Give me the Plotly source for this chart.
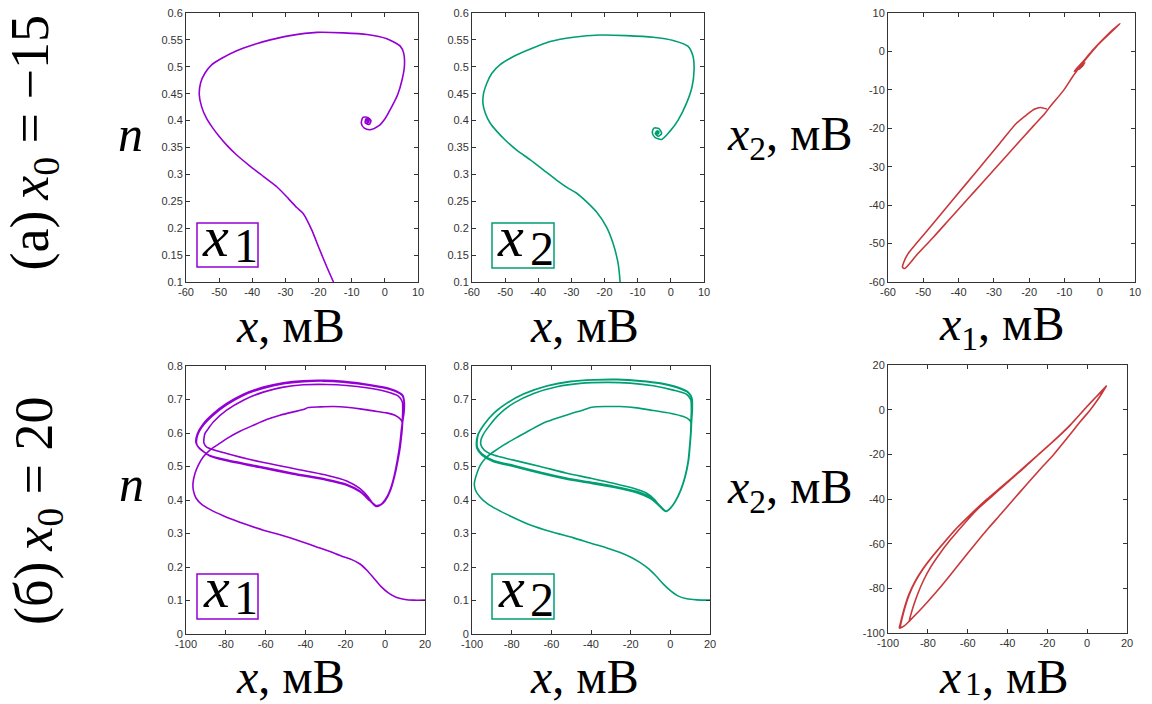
import plotly.graph_objects as go

W, H = 1152, 704
PURPLE = "#9400D3"
GREEN = "#009E73"
RED = "#C8373A"

# ---------------- data ----------------
# (a) x0 = -15 : x1 vs n
A1_PTS = [(-15.5,0.100),(-17.5,0.128),(-20.0,0.165),(-22.0,0.196),(-24.6,0.227),(-26.6,0.2385),
          (-29.1,0.255),(-32.6,0.277),(-36.6,0.296),(-40.7,0.3155),(-44.7,0.336),(-47.5,0.353),
          (-49.9,0.370),(-51.9,0.386),(-53.8,0.404),(-55.3,0.426),(-56.0,0.448),(-55.6,0.470),
          (-54.3,0.488),(-52.2,0.504),(-49.2,0.516),(-44.7,0.530),(-39.7,0.541),(-34.6,0.550),
          (-28.6,0.558),(-20.5,0.564),(-12.5,0.563),(-5.4,0.560),(0.6,0.552),(4.7,0.538),
          (5.7,0.525),(5.9,0.501),(5.2,0.476),(3.85,0.448),(2.1,0.426),(0.1,0.404),(-1.9,0.390),
          (-4.4,0.383),(-6.2,0.386),(-7.1,0.395),(-6.6,0.406),(-5.2,0.406),(-4.2,0.400),
          (-4.7,0.393),(-5.9,0.396),(-5.7,0.403),(-4.7,0.402),(-5.0,0.398),(-5.4,0.400),
          (-5.3,0.401),(-4.8,0.399),(-5.1,0.396),(-5.4,0.398),(-5.1,0.401),(-4.9,0.399),(-5.1,0.398),
          (-5.2,0.399),(-4.95,0.400),(-5.05,0.3985),(-5.15,0.400),(-5.0,0.400)]
# (a) x2 vs n
A2_PTS = [(-15.3,0.100),(-15.9,0.134),(-17.4,0.171),(-19.4,0.202),(-22.4,0.230),(-25.4,0.249),
          (-28.4,0.265),(-30.9,0.274),(-34.4,0.289),(-38.4,0.308),(-42.4,0.327),(-46.5,0.345),
          (-50.0,0.364),(-52.5,0.380),(-54.5,0.395),(-56.0,0.414),(-56.7,0.432),(-56.5,0.451),
          (-55.5,0.470),(-54.0,0.488),(-51.5,0.504),(-47.5,0.519),(-42.4,0.533),(-36.4,0.547),
          (-29.4,0.555),(-21.4,0.559),(-13.4,0.558),(-5.3,0.555),(0.7,0.549),(5.2,0.538),
          (6.7,0.519),(7.0,0.494),(6.4,0.463),(4.7,0.432),(2.2,0.401),(-0.3,0.380),(-2.8,0.365),
          (-4.8,0.369),(-5.6,0.378),(-5.1,0.386),(-3.6,0.385),(-2.8,0.376),(-3.8,0.371),
          (-4.7,0.376),(-4.1,0.381),(-3.6,0.379),(-3.9,0.375),(-4.3,0.377),(-4.0,0.379),
          (-3.8,0.377),(-4.0,0.376),(-4.1,0.378),(-3.9,0.377)]
# (a) x1 vs x2
A3_DOWN = [(-15.0,-15.0),(-16.8,-14.6),(-18.4,-15.0),(-20.7,-16.5),(-23.6,-18.7),(-28.3,-23.9),
           (-33.0,-29.1),(-37.8,-34.4),(-42.5,-39.6),(-47.2,-44.8),(-52.0,-50.0),(-54.3,-52.6),
           (-55.5,-54.8),(-55.9,-56.1)]
A3_UP = [(-55.3,-56.5),(-52.0,-53.1),(-47.2,-48.4),(-42.5,-43.6),(-37.8,-38.8),(-33.0,-33.9),
         (-28.3,-29.1),(-23.6,-24.3),(-18.9,-19.5),(-15.5,-16.1),(-14.1,-14.4),(-10.3,-10.2),
         (-7.0,-5.7),(-0.9,1.3),(5.75,7.2)]
A3_BACK = [(3.9,5.8),(1.0,3.2),(-1.9,0.4),(-4.7,-2.6),(-6.6,-4.5),(-7.2,-5.2),(-6.2,-4.6),
           (-4.2,-2.9),(-5.8,-4.6),(-4.4,-3.3),(-5.4,-4.2),(-4.8,-3.7),(-5.0,-4.0)]

# (b) x0 = 20 : x1 vs n
B1_T = [(20.0,0.101),(14.1,0.101),(10.0,0.103),(5.8,0.109),(1.6,0.123),(-2.3,0.143),(-5.9,0.168),
        (-9.3,0.191),(-12.6,0.209),(-16.8,0.222),(-21.8,0.232),(-27.7,0.246),(-34.4,0.260),
        (-41.1,0.274),(-47.8,0.287),(-54.5,0.299),(-61.2,0.310),(-67.9,0.323),(-74.6,0.337),
        (-81.3,0.353),(-88.0,0.372),(-92.1,0.387),(-95.0,0.406),(-96.3,0.429),(-96.5,0.449)]
B1_M = [(-95.5,0.479),(-93.8,0.504),(-91.3,0.529),(-88.0,0.549),(-83.8,0.566),(-78.7,0.586),
        (-72.9,0.605),(-66.2,0.623),(-59.5,0.640),(-52.8,0.653),(-46.1,0.663),(-41.1,0.670),
        (-38.6,0.676),(-32.7,0.678),(-26.0,0.679),(-19.3,0.677),(-12.6,0.672),(-5.9,0.666),
        (0.8,0.660),(4.9,0.653),(7.4,0.643),(8.5,0.633)]
B1_D1 = [(8.1,0.608),(7.4,0.568),(6.1,0.519),(4.4,0.469),(2.4,0.429),(-0.1,0.399),(-2.6,0.384),(-4.6,0.381)]
B1_L1 = [(-5.9,0.387),(-8.5,0.409),(-12.6,0.434),(-19.3,0.457),(-29.4,0.474),(-46.1,0.494),
         (-62.8,0.514),(-79.6,0.539),(-89.6,0.558),(-91.0,0.570),(-91.0,0.583)]
B1_U1 = [(-90.5,0.598),(-88.8,0.613),(-86.3,0.633),(-79.6,0.668),(-71.2,0.698),(-61.2,0.722),
         (-51.1,0.737),(-41.1,0.744),(-29.4,0.745),(-19.3,0.742),(-9.3,0.735),(0.8,0.723),
         (6.6,0.710),(8.6,0.693),(8.8,0.668),(8.6,0.633)]
B1_D2 = [(8.3,0.600),(7.6,0.560),(6.3,0.515),(4.6,0.468),(2.6,0.428),(0.0,0.398),(-2.5,0.384),(-4.5,0.382)]
B1_L2 = [(-7.6,0.397),(-12.6,0.424),(-19.3,0.444),(-29.4,0.459),(-46.1,0.477),(-62.8,0.497),
         (-79.6,0.517),(-88.0,0.531),(-93.8,0.558),(-95.0,0.571)]
B1_U2 = [(-94.3,0.598),(-91.3,0.628),(-86.3,0.658),(-79.6,0.688),(-71.2,0.716),(-61.2,0.737),
         (-51.1,0.750),(-41.1,0.756),(-31.0,0.757),(-21.0,0.754),(-11.0,0.747),(-0.9,0.737),
         (5.8,0.725),(8.8,0.713),(9.6,0.693),(9.5,0.663),(8.8,0.633)]
B1_D3 = [(8.4,0.602),(7.5,0.563),(6.2,0.517),(4.5,0.470),(2.5,0.430),(-0.1,0.400),(-2.6,0.385),(-4.6,0.383)]
B1_L3 = [(-7.7,0.399),(-12.8,0.427),(-19.5,0.447),(-29.6,0.462),(-46.3,0.480),(-63.0,0.500),
         (-79.8,0.520),(-88.4,0.534),(-93.6,0.556),(-94.7,0.569)]
B1_U3 = [(-94.0,0.596),(-91.0,0.625),(-86.0,0.655),(-79.4,0.685),(-71.0,0.713),(-61.0,0.734),
         (-51.0,0.747),(-41.0,0.753),(-31.0,0.755),(-21.0,0.752),(-11.0,0.745),(-1.0,0.735),
         (5.6,0.723),(8.7,0.711),(9.5,0.692),(9.4,0.663),(8.7,0.633)]

# (b) x2 vs n
B2_T = [(20.0,0.101),(13.3,0.102),(8.3,0.105),(4.1,0.113),(0.2,0.129),(-3.5,0.149),(-7.2,0.173),
        (-11.0,0.195),(-15.2,0.213),(-19.9,0.229),(-25.3,0.243),(-32.0,0.257),(-40.1,0.271),
        (-48.8,0.287),(-60.1,0.305),(-70.6,0.325),(-80.0,0.350),(-87.4,0.372),(-92.4,0.390),
        (-96.1,0.410),(-98.3,0.430),(-98.8,0.450)]
B2_M = [(-97.5,0.480),(-95.8,0.504),(-93.3,0.524),(-89.1,0.544),(-84.1,0.564),(-77.3,0.587),
        (-70.6,0.609),(-62.2,0.634),(-52.2,0.654),(-43.8,0.669),(-39.6,0.677),(-32.0,0.679),
        (-25.3,0.679),(-16.9,0.675),(-8.5,0.667),(-0.1,0.659),(6.6,0.649),(9.6,0.639),(10.4,0.631)]
B2_D1 = [(10.4,0.609),(9.9,0.569),(9.1,0.519),(7.4,0.470),(5.2,0.430),(2.4,0.395),(-0.1,0.375),(-1.8,0.367),(-3.0,0.368)]
B2_L1 = [(-5.2,0.380),(-7.7,0.400),(-11.9,0.420),(-18.6,0.435),(-28.7,0.450),(-40.1,0.465),
         (-52.2,0.480),(-65.6,0.500),(-79.0,0.519),(-89.1,0.534),(-93.8,0.549),(-95.5,0.564),(-95.5,0.579)]
B2_U1 = [(-94.5,0.594),(-91.6,0.619),(-86.6,0.654),(-79.0,0.689),(-68.9,0.718),(-57.2,0.738),
         (-45.5,0.748),(-32.0,0.751),(-20.3,0.749),(-8.5,0.741),(1.5,0.728),(8.3,0.715),
         (10.3,0.699),(10.6,0.669),(10.4,0.634)]
B2_D2 = [(10.3,0.605),(9.8,0.566),(9.0,0.517),(7.3,0.468),(5.1,0.428),(2.3,0.394),(-0.2,0.374),(-1.9,0.366),(-2.7,0.367)]
B2_L2 = [(-6.0,0.385),(-10.2,0.405),(-16.9,0.422),(-28.7,0.438),(-40.1,0.450),(-52.2,0.462),
         (-65.6,0.480),(-79.0,0.500),(-89.1,0.514),(-95.0,0.534),(-97.5,0.554),(-97.8,0.569)]
B2_U2 = [(-97.1,0.594),(-94.1,0.624),(-89.1,0.659),(-82.4,0.689),(-74.0,0.716),(-62.2,0.740),
         (-50.5,0.753),(-38.7,0.758),(-27.0,0.759),(-15.2,0.755),(-5.2,0.748),(3.2,0.736),
         (9.1,0.720),(10.8,0.703),(11.0,0.669),(10.6,0.634)]
B2_D3 = [(10.5,0.607),(10.0,0.568),(9.2,0.518),(7.5,0.469),(5.3,0.429),(2.5,0.395),(0.0,0.375),(-1.7,0.367),(-2.6,0.368)]
B2_L3 = [(-5.9,0.387),(-10.0,0.408),(-16.7,0.425),(-28.5,0.441),(-39.9,0.453),(-52.0,0.465),
         (-65.4,0.483),(-78.8,0.503),(-88.9,0.517),(-94.8,0.537),(-97.2,0.556),(-97.5,0.571)]
B2_U3 = [(-96.8,0.596),(-93.8,0.626),(-88.8,0.660),(-82.2,0.690),(-73.8,0.717),(-62.0,0.741),
         (-50.3,0.754),(-38.5,0.759),(-26.8,0.760),(-15.0,0.756),(-5.0,0.749),(3.4,0.737),
         (9.2,0.721),(10.9,0.704),(11.1,0.670),(10.7,0.634)]

# (b) x1 vs x2
B3_UL_INNER = [(9.5,10.5),(4.8,6.0),(-0.2,1.3),(-8.5,-6.9),(-16.9,-14.1),(-25.3,-20.8),(-31.0,-25.5),
               (-38.6,-31.4),(-46.9,-38.1),(-55.3,-44.8),(-62.3,-51.6),(-68.7,-58.3),(-74.2,-64.7),
               (-78.6,-70.5),(-82.2,-76.5),(-85.0,-82.3),(-87.1,-87.6),(-88.6,-92.0),(-89.4,-94.8),
               (-88.6,-94.0)]
B3_LR = [(-94.1,-97.8),(-92.0,-96.9),(-88.6,-94.0),(-84.0,-89.8),(-79.3,-85.2),(-74.5,-80.3),
         (-68.7,-74.0),(-62.6,-67.2),(-56.2,-60.1),(-49.5,-53.0),(-43.2,-46.6),(-36.9,-40.1),
         (-30.2,-33.3),(-23.5,-26.6),(-16.8,-20.1),(-10.1,-12.8),(-3.4,-5.3),(1.6,0.0),(5.8,5.1),(9.6,10.6)]
B3_UL_OUTER = [(9.6,10.6),(4.9,6.1),(-0.1,1.4),(-8.45,-6.8),(-16.8,-14.0),(-25.2,-20.7),(-33.6,-27.3),
               (-41.9,-33.7),(-50.3,-40.1),(-57.8,-46.3),(-65.4,-53.0),(-72.1,-59.8),(-77.9,-66.0),
               (-82.5,-71.5),(-86.3,-77.0),(-89.2,-82.5),(-91.3,-88.0),(-92.8,-93.0),(-93.7,-96.5),
               (-94.1,-97.8)]
B3_UL_OUTER2 = [(9.5,10.4),(4.7,5.9),(-0.3,1.2),(-8.7,-7.0),(-17.1,-14.2),(-25.5,-20.9),(-33.9,-27.5),
                (-42.2,-33.9),(-50.6,-40.3),(-58.1,-46.5),(-65.7,-53.2),(-72.4,-60.0),(-78.2,-66.2),
                (-82.8,-71.7),(-86.6,-77.2),(-89.5,-82.7),(-91.6,-88.2),(-93.1,-93.2),(-94.0,-96.5),
                (-94.3,-97.6)]

# tick labels
A_X_TICKS = [-60, -50, -40, -30, -20, -10, 0, 10]
A_X_TEXT = ["-60", "-50", "-40", "-30", "-20", "-10", "0", "10"]
A_N_TICKS = [0.1, 0.15, 0.2, 0.25, 0.3, 0.35, 0.4, 0.45, 0.5, 0.55, 0.6]
A_N_TEXT = ["0.1", "0.15", "0.2", "0.25", "0.3", "0.35", "0.4", "0.45", "0.5", "0.55", "0.6"]
A_Y3_TICKS = [-60, -50, -40, -30, -20, -10, 0, 10]
A_Y3_TEXT = ["-60", "-50", "-40", "-30", "-20", "-10", "0", "10"]
B_X_TICKS = [-100, -80, -60, -40, -20, 0, 20]
B_X_TEXT = ["-100", "-80", "-60", "-40", "-20", "0", "20"]
B_N_TICKS = [0, 0.1, 0.2, 0.3, 0.4, 0.5, 0.6, 0.7, 0.8]
B_N_TEXT = ["0", "0.1", "0.2", "0.3", "0.4", "0.5", "0.6", "0.7", "0.8"]
B_Y3_TICKS = [-100, -80, -60, -40, -20, 0, 20]
B_Y3_TEXT = ["-100", "-80", "-60", "-40", "-20", "0", "20"]

# ---------------- figure ----------------
def fx(px):
    return px / W

def fy(py):
    return 1 - py / H

fig = go.Figure()

def add_curve(pts, color, idx):
    fig.add_trace(go.Scatter(
        x=[p[0] for p in pts], y=[p[1] for p in pts], mode="lines",
        line=dict(color=color, width=1.6, shape="spline", smoothing=0.7),
        xaxis="x" + ("" if idx == 1 else str(idx)),
        yaxis="y" + ("" if idx == 1 else str(idx)),
        hoverinfo="skip", showlegend=False))

add_curve(A1_PTS, PURPLE, 1)
add_curve(A2_PTS, GREEN, 2)
add_curve(A3_DOWN + A3_UP + A3_BACK, RED, 3)
add_curve(B1_T + B1_M + B1_D1 + B1_L1 + B1_U1 + B1_D2 + B1_L2 + B1_U2 + B1_D3 + B1_L3 + B1_U3 + B1_D3,
          PURPLE, 4)
add_curve(B2_T + B2_M + B2_D1 + B2_L1 + B2_U1 + B2_D2 + B2_L2 + B2_U2 + B2_D3 + B2_L3 + B2_U3 + B2_D3,
          GREEN, 5)
add_curve(B3_UL_INNER + B3_LR[3:] + B3_UL_OUTER + B3_LR + B3_UL_OUTER2 + B3_LR, RED, 6)

tickfont = dict(family="Liberation Sans, Arial, sans-serif", size=11, color="#333333")

def axis(dom, rng, tv, tt, anchor):
    return dict(domain=dom, range=rng, tickvals=tv, ticktext=tt, anchor=anchor,
                ticks="inside", ticklen=4, tickwidth=1, tickcolor="#333",
                showline=True, linecolor="#333", linewidth=1, mirror="ticks",
                showgrid=False, zeroline=False, tickfont=tickfont, automargin=False,
                fixedrange=True)

# pixel frames of the six panels
PANELS = {
    1: ((186, 418), (13, 282)),
    2: ((472, 704), (13, 282)),
    3: ((888, 1135), (13, 282)),
    4: ((186, 425), (366, 634)),
    5: ((472, 710), (366, 634)),
    6: ((888, 1127), (365, 633)),
}
RANGES = {
    1: ([-60, 10], [0.1, 0.6], A_X_TICKS, A_X_TEXT, A_N_TICKS, A_N_TEXT),
    2: ([-60, 10], [0.1, 0.6], A_X_TICKS, A_X_TEXT, A_N_TICKS, A_N_TEXT),
    3: ([-60, 10], [-60, 10], A_X_TICKS, A_X_TEXT, A_Y3_TICKS, A_Y3_TEXT),
    4: ([-100, 20], [0, 0.8], B_X_TICKS, B_X_TEXT, B_N_TICKS, B_N_TEXT),
    5: ([-100, 20], [0, 0.8], B_X_TICKS, B_X_TEXT, B_N_TICKS, B_N_TEXT),
    6: ([-100, 20], [-100, 20], B_X_TICKS, B_X_TEXT, B_Y3_TICKS, B_Y3_TEXT),
}
layout_axes = {}
for i in range(1, 7):
    (x0, x1), (y0, y1) = PANELS[i]
    xr, yr, xtv, xtt, ytv, ytt = RANGES[i]
    s = "" if i == 1 else str(i)
    layout_axes["xaxis" + s] = axis([fx(x0), fx(x1)], xr, xtv, xtt, "y" + s)
    layout_axes["yaxis" + s] = axis([fy(y1), fy(y0)], yr, ytv, ytt, "x" + s)

fig.update_layout(width=W, height=H, margin=dict(l=0, r=0, t=0, b=0),
                  paper_bgcolor="white", plot_bgcolor="white", showlegend=False,
                  **layout_axes)

SERIF = "Liberation Serif, Times New Roman, serif"
annots = []

def txt(text, px, py, size, angle=0, xanchor="center", yanchor="middle"):
    annots.append(dict(text=text, x=fx(px), y=fy(py), xref="paper", yref="paper",
                       xanchor=xanchor, yanchor=yanchor, showarrow=False,
                       textangle=angle, font=dict(family=SERIF, size=size, color="black")))

# row labels
txt("(a)\u2009<i>x</i><sub>0</sub> = \u221215", 33, 142.5, 54, -90)
txt("(б)\u2009<i>x</i><sub>0</sub> = 20", 37, 511, 54, -90)
# y titles
txt("<i>n</i>", 130, 133.5, 50)
txt("<i>n</i>", 131, 483.5, 50)
txt("<i>x</i><sub>2</sub>, мВ", 790, 137, 48)
txt("<i>x</i><sub>2</sub>, мВ", 790, 490, 48)
# x titles
txt("<i>x</i>, мВ", 290, 325, 48)
txt("<i>x</i>, мВ", 584, 325, 48)
txt("<i>x</i><sub>1</sub>, мВ", 1002, 327, 48)
txt("<i>x</i>, мВ", 290, 676, 48)
txt("<i>x</i>, мВ", 584, 676, 48)
# bottom-right title built from pieces so that it stays inside the page
txt("<i>x</i>", 963, 676, 48, xanchor="right")
txt("1", 963, 704, 33, xanchor="left", yanchor="bottom")
txt(", мВ", 980, 676, 48, xanchor="left")

# legend boxes
shapes = []
BOXES = [((197, 223, 258, 267), PURPLE, "1", (215, 236), (246, 246)),
         ((492, 223, 554, 268), GREEN, "2", (510.5, 236), (542, 248)),
         ((197, 574, 258, 619), PURPLE, "1", (216, 587), (246, 597)),
         ((492, 574, 554, 619), GREEN, "2", (511, 587), (542, 599))]
for (bx0, by0, bx1, by1), col, sub, xp, sp in BOXES:
    shapes.append(dict(type="rect", xref="paper", yref="paper",
                       x0=fx(bx0), x1=fx(bx1), y0=fy(by1), y1=fy(by0),
                       line=dict(color=col, width=1.5), fillcolor="white", layer="above"))
    txt("<i>x</i>", xp[0], xp[1], 58)
    txt(sub, sp[0], sp[1], 48)

fig.update_layout(annotations=annots, shapes=shapes)
fig.write_html("out.html")
